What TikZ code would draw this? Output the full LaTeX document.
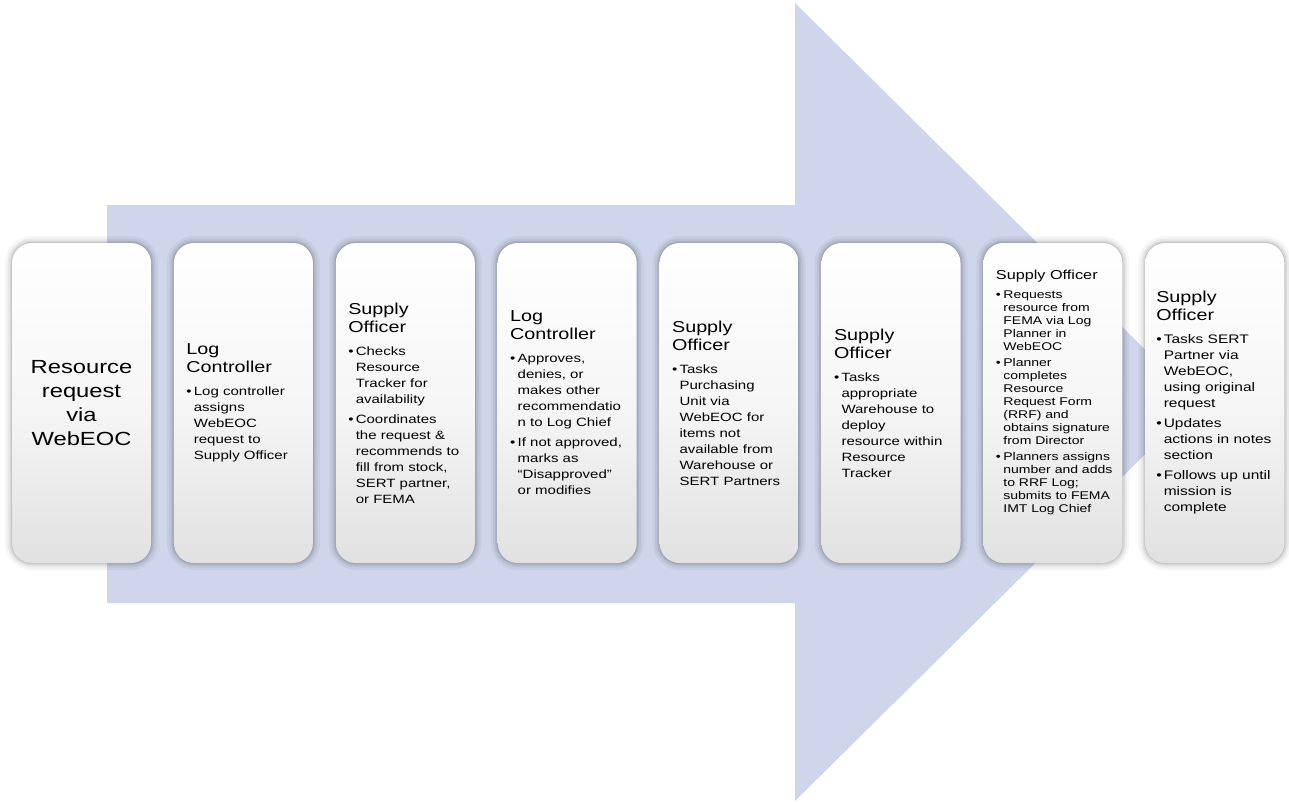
\documentclass[tikz,border=0pt]{standalone}
\usepackage{fontspec}
\setmainfont[FakeStretch=1.25]{Liberation Sans}
\definecolor{arrowc}{RGB}{207,213,234}
\definecolor{boxbot}{RGB}{225,225,225}
\definecolor{boxmid}{RGB}{246,246,246}
\newcommand\T[1]{\hbox{#1}}
\newcommand\B[1]{\hbox{\makebox[7.5pt][l]{\textbullet}#1}}
\newcommand\C[1]{\hbox{\kern7.5pt #1}}
\newcommand\ttlf{\fontsize{15.8}{18}\selectfont}
\newcommand\bulf{\fontsize{12}{16}\selectfont}
\newcommand\gap{\vskip4pt}
\newcommand\tgap{\vskip7pt}
\tikzset{
  stepbox/.style={rectangle, rounded corners=20pt, minimum width=139pt, minimum height=320pt, inner sep=0pt,
    top color=white, bottom color=boxbot, middle color=boxmid,
    preaction={draw=black, draw opacity=.035, line width=14pt},
    preaction={draw=black, draw opacity=.05, line width=9pt},
    preaction={draw=black, draw opacity=.07, line width=5pt},
    preaction={draw=black, draw opacity=.09, line width=2pt}},
  txt/.style={anchor=west, inner sep=0pt, text=black}
}
\begin{document}
\begin{tikzpicture}[x=1pt,y=-1pt]
\useasboundingbox (0,0) rectangle (1289,803);
\fill[arrowc] (107,205) -- (795,205) -- (795,3) -- (1198,402) -- (795,801) -- (795,603) -- (107,603) -- cycle;

\node[stepbox] (b1) at (81.5,403) {};
\node[stepbox] (b2) at (243.4,403) {};
\node[stepbox] (b3) at (405.3,403) {};
\node[stepbox] (b4) at (567.2,403) {};
\node[stepbox] (b5) at (729.1,403) {};
\node[stepbox] (b6) at (891,403) {};
\node[stepbox] (b7) at (1052.9,403) {};
\node[stepbox] (b8) at (1214.8,403) {};

\node[inner sep=0pt, align=center, font=\fontsize{19}{24}\selectfont] (t1) at (b1) {Resource\\request\\via\\WebEOC};

\node[txt] (t2) at ([xshift=12.5pt]b2.west) {\vbox{\ttlf\T{Log}\T{Controller}\tgap\bulf
 \B{Log controller}\C{assigns}\C{WebEOC}\C{request to}\C{Supply Officer}}};

\node[txt] (t3) at ([xshift=12.5pt]b3.west) {\vbox{\ttlf\T{Supply}\T{Officer}\tgap\bulf
 \B{Checks}\C{Resource}\C{Tracker for}\C{availability}\gap
 \B{Coordinates}\C{the request \&}\C{recommends to}\C{fill from stock,}\C{SERT partner,}\C{or FEMA}}};

\node[txt] (t4) at ([xshift=12.5pt]b4.west) {\vbox{\ttlf\T{Log}\T{Controller}\tgap\bulf
 \B{Approves,}\C{denies, or}\C{makes other}\C{recommendatio}\C{n to Log Chief}\gap
 \B{If not approved,}\C{marks as}\C{“Disapproved”}\C{or modifies}}};

\node[txt] (t5) at ([xshift=12.5pt]b5.west) {\vbox{\ttlf\T{Supply}\T{Officer}\tgap\bulf
 \B{Tasks}\C{Purchasing}\C{Unit via}\C{WebEOC for}\C{items not}\C{available from}\C{Warehouse or}\C{SERT Partners}}};

\node[txt] (t6) at ([xshift=12.5pt]b6.west) {\vbox{\ttlf\T{Supply}\T{Officer}\tgap\bulf
 \B{Tasks}\C{appropriate}\C{Warehouse to}\C{deploy}\C{resource within}\C{Resource}\C{Tracker}}};

\node[txt, yshift=11pt] (t7) at ([xshift=12.5pt]b7.west) {\vbox{\fontsize{13}{15}\selectfont\T{Supply Officer}\vskip6pt
 \fontsize{11.2}{13}\selectfont
 \B{Requests}\C{resource from}\C{FEMA via Log}\C{Planner in}\C{WebEOC}\vskip3pt
 \B{Planner}\C{completes}\C{Resource}\C{Request Form}\C{(RRF) and}\C{obtains signature}\C{from Director}\vskip3pt
 \B{Planners assigns}\C{number and adds}\C{to RRF Log;}\C{submits to FEMA}\C{IMT Log Chief}}};

\node[txt] (t8) at ([xshift=11pt]b8.west) {\vbox{\ttlf\T{Supply}\T{Officer}\tgap\fontsize{12.4}{16}\selectfont
 \B{Tasks SERT}\C{Partner via}\C{WebEOC,}\C{using original}\C{request}\gap
 \B{Updates}\C{actions in notes}\C{section}\gap
 \B{Follows up until}\C{mission is}\C{complete}}};
\end{tikzpicture}
\end{document}
